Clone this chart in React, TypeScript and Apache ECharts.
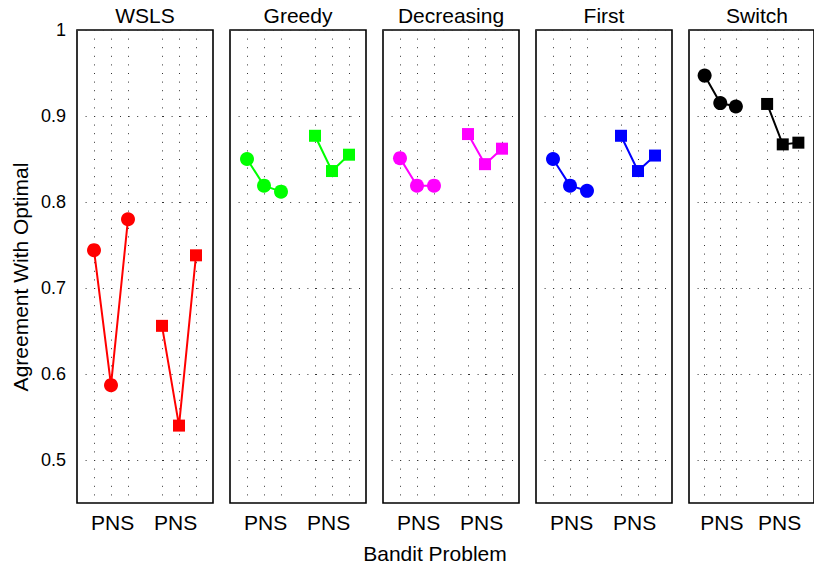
import React, { useEffect, useRef } from "react";
import * as echarts from "echarts";

const panelNames = ["WSLS", "Greedy", "Decreasing", "First", "Switch"];
const panelColors = ["#ff0000", "#00ff00", "#ff00ff", "#0000ff", "#000000"];
const circleX = [1, 2, 3];
const squareX = [5, 6, 7];
const circleValues = [
  [0.744, 0.587, 0.780],
  [0.850, 0.819, 0.812],
  [0.851, 0.819, 0.819],
  [0.850, 0.819, 0.813],
  [0.947, 0.915, 0.911],
];
const squareValues = [
  [0.656, 0.540, 0.738],
  [0.877, 0.836, 0.855],
  [0.879, 0.844, 0.862],
  [0.877, 0.836, 0.854],
  [0.914, 0.867, 0.869],
];
const yTickLabels = ["0.5", "0.6", "0.7", "0.8", "0.9", "1"];
const xGroupLabel = "PNS";
const xLabelPositions = [2.1, 5.8];
const yAxisTitle = "Agreement With Optimal";
const xAxisTitle = "Bandit Problem";

const FONT = "Liberation Sans, Arial, Helvetica, sans-serif";

export default function App() {
  const ref = useRef<HTMLDivElement>(null);
  useEffect(() => {
    if (!ref.current) return;
    const chart = echarts.init(ref.current, undefined, { renderer: "svg" });
    const gridLeft0 = 77;
    const gridWidth = 136;
    const gridStep = 153;
    const grids: any[] = [];
    const xAxes: any[] = [];
    const yAxes: any[] = [];
    const series: any[] = [];
    const graphics: any[] = [];
    const dotColor = "#333";
    const xLineColors = [
      "transparent", dotColor, dotColor, dotColor, "transparent",
      dotColor, dotColor, dotColor, "transparent",
    ];
    panelNames.forEach((name, i) => {
      const left = gridLeft0 + i * gridStep;
      grids.push({
        left,
        width: gridWidth,
        top: 30,
        height: 473,
        show: true,
        borderColor: "#000",
        borderWidth: 1.6,
        backgroundColor: "#fff",
      });
      xAxes.push({
        type: "value",
        gridIndex: i,
        min: 0,
        max: 8,
        interval: 1,
        axisLine: { show: false },
        axisTick: { show: false },
        axisLabel: {
          show: true,
          customValues: xLabelPositions,
          formatter: () => xGroupLabel,
          fontSize: 21,
          color: "#000",
          fontFamily: FONT,
          margin: 9,
        },
        splitLine: {
          show: true,
          showMinLine: true,
          showMaxLine: true,
          lineStyle: { color: xLineColors, width: 1, type: [1, 7.6] },
        },
      });
      yAxes.push({
        type: "value",
        gridIndex: i,
        min: 0.45,
        max: 1,
        interval: 0.05,
        axisLine: { show: false },
        axisTick: { show: false },
        axisLabel: {
          show: i === 0,
          fontSize: 18,
          color: "#000",
          fontFamily: FONT,
          margin: 11,
          formatter: (v: number) => {
            const r = Math.round(v * 100);
            if (r % 10 !== 0) return "";
            const idx = (r - 50) / 10;
            return yTickLabels[idx] ?? "";
          },
        },
        splitLine: {
          show: true,
          showMinLine: true,
          showMaxLine: true,
          lineStyle: { color: ["transparent", dotColor], width: 1, type: [1, 7.6] },
        },
      });
      series.push({
        type: "line",
        xAxisIndex: i,
        yAxisIndex: i,
        data: circleX.map((x, k) => [x, circleValues[i][k]]),
        symbol: "circle",
        symbolSize: 14,
        showAllSymbol: true,
        lineStyle: { color: panelColors[i], width: 2 },
        itemStyle: { color: panelColors[i] },
        z: 5,
      });
      series.push({
        type: "line",
        xAxisIndex: i,
        yAxisIndex: i,
        data: squareX.map((x, k) => [x, squareValues[i][k]]),
        symbol: "rect",
        symbolSize: 12,
        showAllSymbol: true,
        lineStyle: { color: panelColors[i], width: 2 },
        itemStyle: { color: panelColors[i] },
        z: 5,
      });
      graphics.push({
        type: "text",
        x: left + gridWidth / 2,
        y: 15,
        style: {
          text: name,
          fontSize: 21,
          fontFamily: FONT,
          fill: "#000",
          textAlign: "center",
          textVerticalAlign: "middle",
        },
      });
    });
    graphics.push({
      type: "text",
      x: 435,
      y: 553,
      style: {
        text: xAxisTitle,
        fontSize: 21,
        fontFamily: FONT,
        fill: "#000",
        textAlign: "center",
        textVerticalAlign: "middle",
      },
    });
    graphics.push({
      type: "text",
      x: 20,
      y: 277,
      rotation: Math.PI / 2,
      style: {
        text: yAxisTitle,
        fontSize: 21,
        fontFamily: FONT,
        fill: "#000",
        textAlign: "center",
        textVerticalAlign: "middle",
      },
    });
    chart.setOption({
      animation: false,
      backgroundColor: "#fff",
      grid: grids,
      xAxis: xAxes,
      yAxis: yAxes,
      series,
      graphic: graphics,
    });
    return () => chart.dispose();
  }, []);
  return (
    <div
      ref={ref}
      style={{ position: "absolute", left: 0, top: 0, width: 814, height: 568 }}
    />
  );
}
